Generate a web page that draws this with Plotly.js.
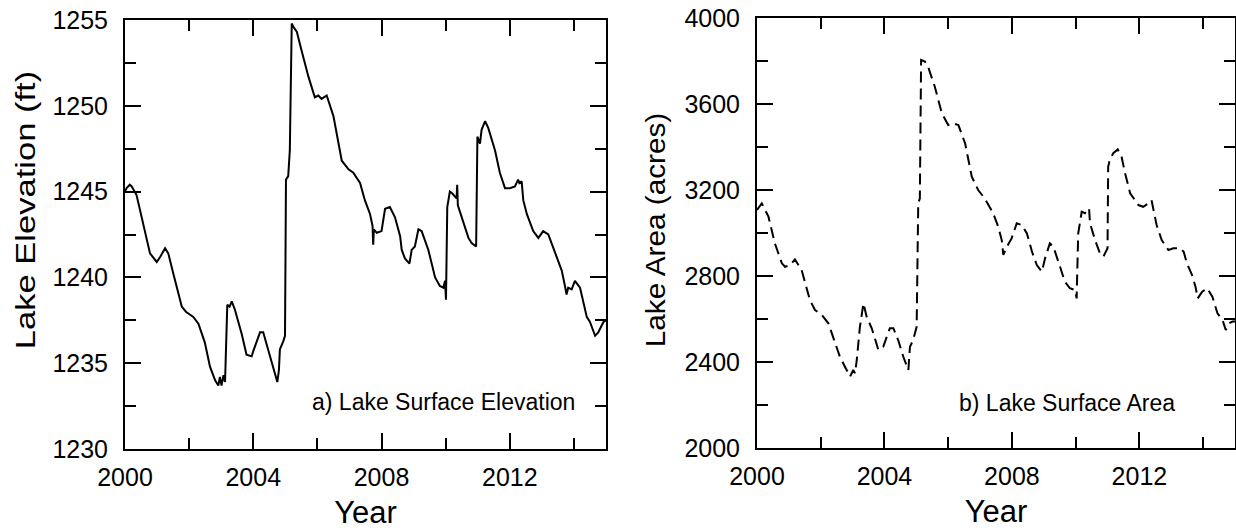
<!DOCTYPE html>
<html>
<head>
<meta charset="utf-8">
<script src="https://cdn.plot.ly/plotly-3.0.1.min.js"></script>
<style>
  html, body { margin: 0; padding: 0; background: #fff; }
  #chart { width: 1236px; height: 531px; }
</style>
</head>
<body>
<div id="chart"></div>
<script>
// ---- Data ----
const elevYear = [2000.0, 2000.05, 2000.15, 2000.21, 2000.36, 2000.41, 2000.62, 2000.78, 2000.99, 2001.1,
  2001.25, 2001.35, 2001.51, 2001.77, 2001.9, 2002.13, 2002.29, 2002.49, 2002.65, 2002.81,
  2002.91, 2002.96, 2003.01, 2003.07, 2003.12, 2003.15, 2003.19, 2003.26, 2003.33, 2003.43,
  2003.64, 2003.79, 2003.95, 2004.0, 2004.21, 2004.31, 2004.47, 2004.62, 2004.75, 2004.8,
  2004.83, 2004.94, 2004.99, 2005.02, 2005.09, 2005.14, 2005.2, 2005.25, 2005.36, 2005.51,
  2005.72, 2005.92, 2006.03, 2006.13, 2006.29, 2006.5, 2006.76, 2006.97, 2007.12, 2007.33,
  2007.48, 2007.64, 2007.72, 2007.74, 2007.76, 2007.85, 2008.0, 2008.11, 2008.26, 2008.42,
  2008.58, 2008.63, 2008.73, 2008.87, 2008.94, 2009.04, 2009.15, 2009.25, 2009.46, 2009.67,
  2009.82, 2009.93, 2009.98, 2010.01, 2010.05, 2010.13, 2010.2, 2010.34, 2010.36, 2010.38,
  2010.6, 2010.71, 2010.81, 2010.95, 2010.99, 2011.07, 2011.12, 2011.23, 2011.33, 2011.54,
  2011.69, 2011.85, 2012.0, 2012.16, 2012.26, 2012.3, 2012.37, 2012.42, 2012.53, 2012.73,
  2012.89, 2013.04, 2013.2, 2013.41, 2013.62, 2013.72, 2013.77, 2013.82, 2013.93, 2014.03,
  2014.19, 2014.4, 2014.5, 2014.66, 2014.76, 2014.92, 2015.0];
const elevFt = [1245.0, 1245.2, 1245.4, 1245.3, 1244.8, 1244.4, 1242.6, 1241.4, 1240.9, 1241.2,
  1241.7, 1241.4, 1240.2, 1238.3, 1238.0, 1237.7, 1237.3, 1236.2, 1234.8, 1234.0,
  1233.7, 1234.2, 1233.7, 1234.3, 1233.9, 1236.0, 1238.4, 1238.3, 1238.6, 1238.1,
  1236.7, 1235.5, 1235.4, 1235.7, 1236.8, 1236.8, 1235.8, 1234.8, 1233.9, 1234.6,
  1235.8, 1236.3, 1236.6, 1245.7, 1245.9, 1247.4, 1254.8, 1254.6, 1254.3, 1253.2,
  1251.7, 1250.5, 1250.6, 1250.4, 1250.6, 1249.4, 1246.8, 1246.3, 1246.1, 1245.5,
  1244.5, 1243.7, 1243.0, 1241.9, 1242.8, 1242.6, 1242.7, 1244.0, 1244.1, 1243.5,
  1242.4, 1241.6, 1241.1, 1240.8, 1241.6, 1241.8, 1242.8, 1242.7, 1241.6, 1240.0,
  1239.5, 1239.4, 1239.8, 1238.7, 1244.1, 1245.0, 1244.9, 1244.6, 1245.4, 1244.2,
  1243.0, 1242.3, 1242.0, 1241.8, 1248.2, 1247.8, 1248.6, 1249.1, 1248.7, 1247.4,
  1246.1, 1245.2, 1245.2, 1245.3, 1245.7, 1245.5, 1245.6, 1244.5, 1243.7, 1242.7,
  1242.3, 1242.7, 1242.5, 1241.4, 1240.4, 1239.5, 1239.0, 1239.4, 1239.3, 1239.8,
  1239.4, 1237.7, 1237.4, 1236.6, 1236.8, 1237.4, 1237.5];

const areaYear = [2000.0, 2000.15, 2000.36, 2000.56, 2000.78, 2000.88, 2001.04, 2001.19, 2001.4, 2001.66,
  2001.82, 2002.03, 2002.24, 2002.45, 2002.6, 2002.76, 2002.92, 2003.02, 2003.08, 2003.13,
  2003.23, 2003.34, 2003.44, 2003.6, 2003.81, 2003.96, 2004.17, 2004.28, 2004.43, 2004.59,
  2004.75, 2004.8, 2004.9, 2005.01, 2005.06, 2005.11, 2005.15, 2005.27, 2005.37, 2005.58,
  2005.8, 2006.0, 2006.16, 2006.32, 2006.53, 2006.74, 2006.94, 2007.15, 2007.41, 2007.57,
  2007.68, 2007.73, 2007.84, 2007.99, 2008.15, 2008.31, 2008.47, 2008.63, 2008.78, 2008.94,
  2009.04, 2009.19, 2009.3, 2009.51, 2009.66, 2009.82, 2009.98, 2010.03, 2010.08, 2010.19,
  2010.29, 2010.42, 2010.45, 2010.61, 2010.76, 2010.87, 2011.0, 2011.02, 2011.07, 2011.18,
  2011.32, 2011.44, 2011.55, 2011.71, 2011.97, 2012.12, 2012.28, 2012.38, 2012.44, 2012.54,
  2012.7, 2012.91, 2013.07, 2013.28, 2013.39, 2013.49, 2013.65, 2013.76, 2013.83, 2013.97,
  2014.13, 2014.29, 2014.45, 2014.61, 2014.71, 2014.82, 2014.92, 2015.0];
const areaAcres = [3107, 3138, 3076, 2952, 2859, 2843, 2851, 2877, 2828, 2688,
  2642, 2619, 2580, 2487, 2425, 2378, 2332, 2363, 2347, 2409,
  2564, 2673, 2611, 2557, 2456, 2471, 2557, 2557, 2502, 2425,
  2363, 2471, 2502, 2564, 3140, 3160, 3805, 3797, 3773, 3680,
  3557, 3502, 3510, 3502, 3417, 3262, 3200, 3160, 3092, 3029,
  2967, 2898, 2936, 2975, 3045, 3037, 2998, 2913, 2851, 2820,
  2882, 2952, 2936, 2843, 2774, 2743, 2735, 2696, 2998, 3099,
  3092, 3115, 3045, 2967, 2906, 2890, 2929, 3308, 3340, 3371,
  3389, 3355, 3278, 3185, 3130, 3122, 3138, 3153, 3107, 3037,
  2967, 2921, 2929, 2929, 2913, 2859, 2805, 2750, 2696, 2727,
  2743, 2704, 2626, 2595, 2549, 2580, 2588, 2588];

const panelLabels = ['a) Lake Surface Elevation', 'b) Lake Surface Area'];
const yTitles = ['Lake Elevation (ft)', 'Lake Area (acres)'];
const xTitle = 'Year';

// ---- Styling ----
const FONT = 'Liberation Sans, Arial, Helvetica, sans-serif';
const W = 1236, H = 531;
const ML = 125, MR = 1, MT = 18, MB = 82;
const PW = W - ML - MR, PH = H - MT - MB;

function xAxis(domain) {
  return {
    domain: domain, range: [2000, 2015], tickmode: 'linear', tick0: 2000, dtick: 4,
    tickformat: 'd', ticks: 'inside', ticklen: 16, tickwidth: 2, tickcolor: '#000',
    showline: true, linewidth: 2, linecolor: '#000', mirror: 'ticks',
    showgrid: false, zeroline: false,
    tickfont: {family: FONT, size: 25, color: '#000'}, ticklabelstandoff: 5,
    minor: {tickmode: 'linear', tick0: 2000, dtick: 2, ticks: 'inside', ticklen: 11, tickwidth: 2, tickcolor: '#000', showgrid: false},
    title: {text: xTitle, font: {family: FONT, size: 31, color: '#000'}, standoff: 11},
    fixedrange: true
  };
}
function yAxis(domain, range, dtick, mdtick, title, anchor) {
  return {
    domain: domain, range: range, tickmode: 'linear', tick0: range[0], dtick: dtick,
    ticks: 'inside', ticklen: 16, tickwidth: 2, tickcolor: '#000', anchor: anchor,
    showline: true, linewidth: 2, linecolor: '#000', mirror: 'ticks',
    showgrid: false, zeroline: false,
    tickfont: {family: FONT, size: 25, color: '#000'}, ticklabelstandoff: 10,
    minor: {tickmode: 'linear', tick0: range[0], dtick: mdtick, ticks: 'inside', ticklen: 11, tickwidth: 2, tickcolor: '#000', showgrid: false},
    title: {text: title, font: {family: FONT, size: 27, color: '#000'}, standoff: 14},
    fixedrange: true
  };
}

const px = v => (v - ML) / PW;
const data = [
  {x: elevYear, y: elevFt, type: 'scatter', mode: 'lines', xaxis: 'x', yaxis: 'y',
   line: {color: '#000', width: 2}, showlegend: false, hoverinfo: 'skip'},
  {x: areaYear, y: areaAcres, type: 'scatter', mode: 'lines', xaxis: 'x2', yaxis: 'y2',
   line: {color: '#000', width: 2, dash: '11px,6px'}, showlegend: false, hoverinfo: 'skip'}
];

const layout = {
  width: W, height: H,
  margin: {l: ML, r: MR, t: MT, b: MB},
  paper_bgcolor: '#fff', plot_bgcolor: '#fff',
  font: {family: FONT, color: '#000'},
  showlegend: false,
  xaxis: Object.assign(xAxis([0, px(606)]), {anchor: 'y'}),
  yaxis: yAxis([0, (449 - 20) / PH], [1230, 1255], 5, 2.5, yTitles[0], 'x'),
  xaxis2: Object.assign(xAxis([px(757), 1]), {anchor: 'y2'}),
  yaxis2: yAxis([1 / PH, 1], [2000, 4000], 400, 200, yTitles[1], 'x2'),
  annotations: [
    {xref: 'x domain', yref: 'y domain', x: 0.94, y: 0.11, xanchor: 'right', yanchor: 'middle',
     text: panelLabels[0], showarrow: false, font: {family: FONT, size: 23, color: '#000'}},
    {xref: 'x2 domain', yref: 'y2 domain', x: 0.879, y: 0.105, xanchor: 'right', yanchor: 'middle',
     text: panelLabels[1], showarrow: false, font: {family: FONT, size: 23, color: '#000'}}
  ]
};

// Elongate the rotated y titles along their length, as in the reference figure.
function stretchTitle(sel, cx, cy, sx) {
  const t = document.querySelector(sel);
  if (!t) return;
  const bx = cx + 7; // baseline position so that glyph body is centred on cx
  t.setAttribute('x', bx);
  t.setAttribute('y', cy);
  t.querySelectorAll('tspan').forEach(ts => { if (ts.hasAttribute('x')) ts.setAttribute('x', bx); });
  t.setAttribute('transform',
    `rotate(-90,${bx},${cy}) translate(${bx},${cy}) scale(${sx},1) translate(${-bx},${-cy})`);
}

Plotly.newPlot('chart', data, layout, {displayModeBar: false, staticPlot: true}).then(() => {
  stretchTitle('.g-ytitle text', 28, 210, 1.28);
  stretchTitle('.g-y2title text', 658, 230, 1.1);
});
</script>
</body>
</html>
